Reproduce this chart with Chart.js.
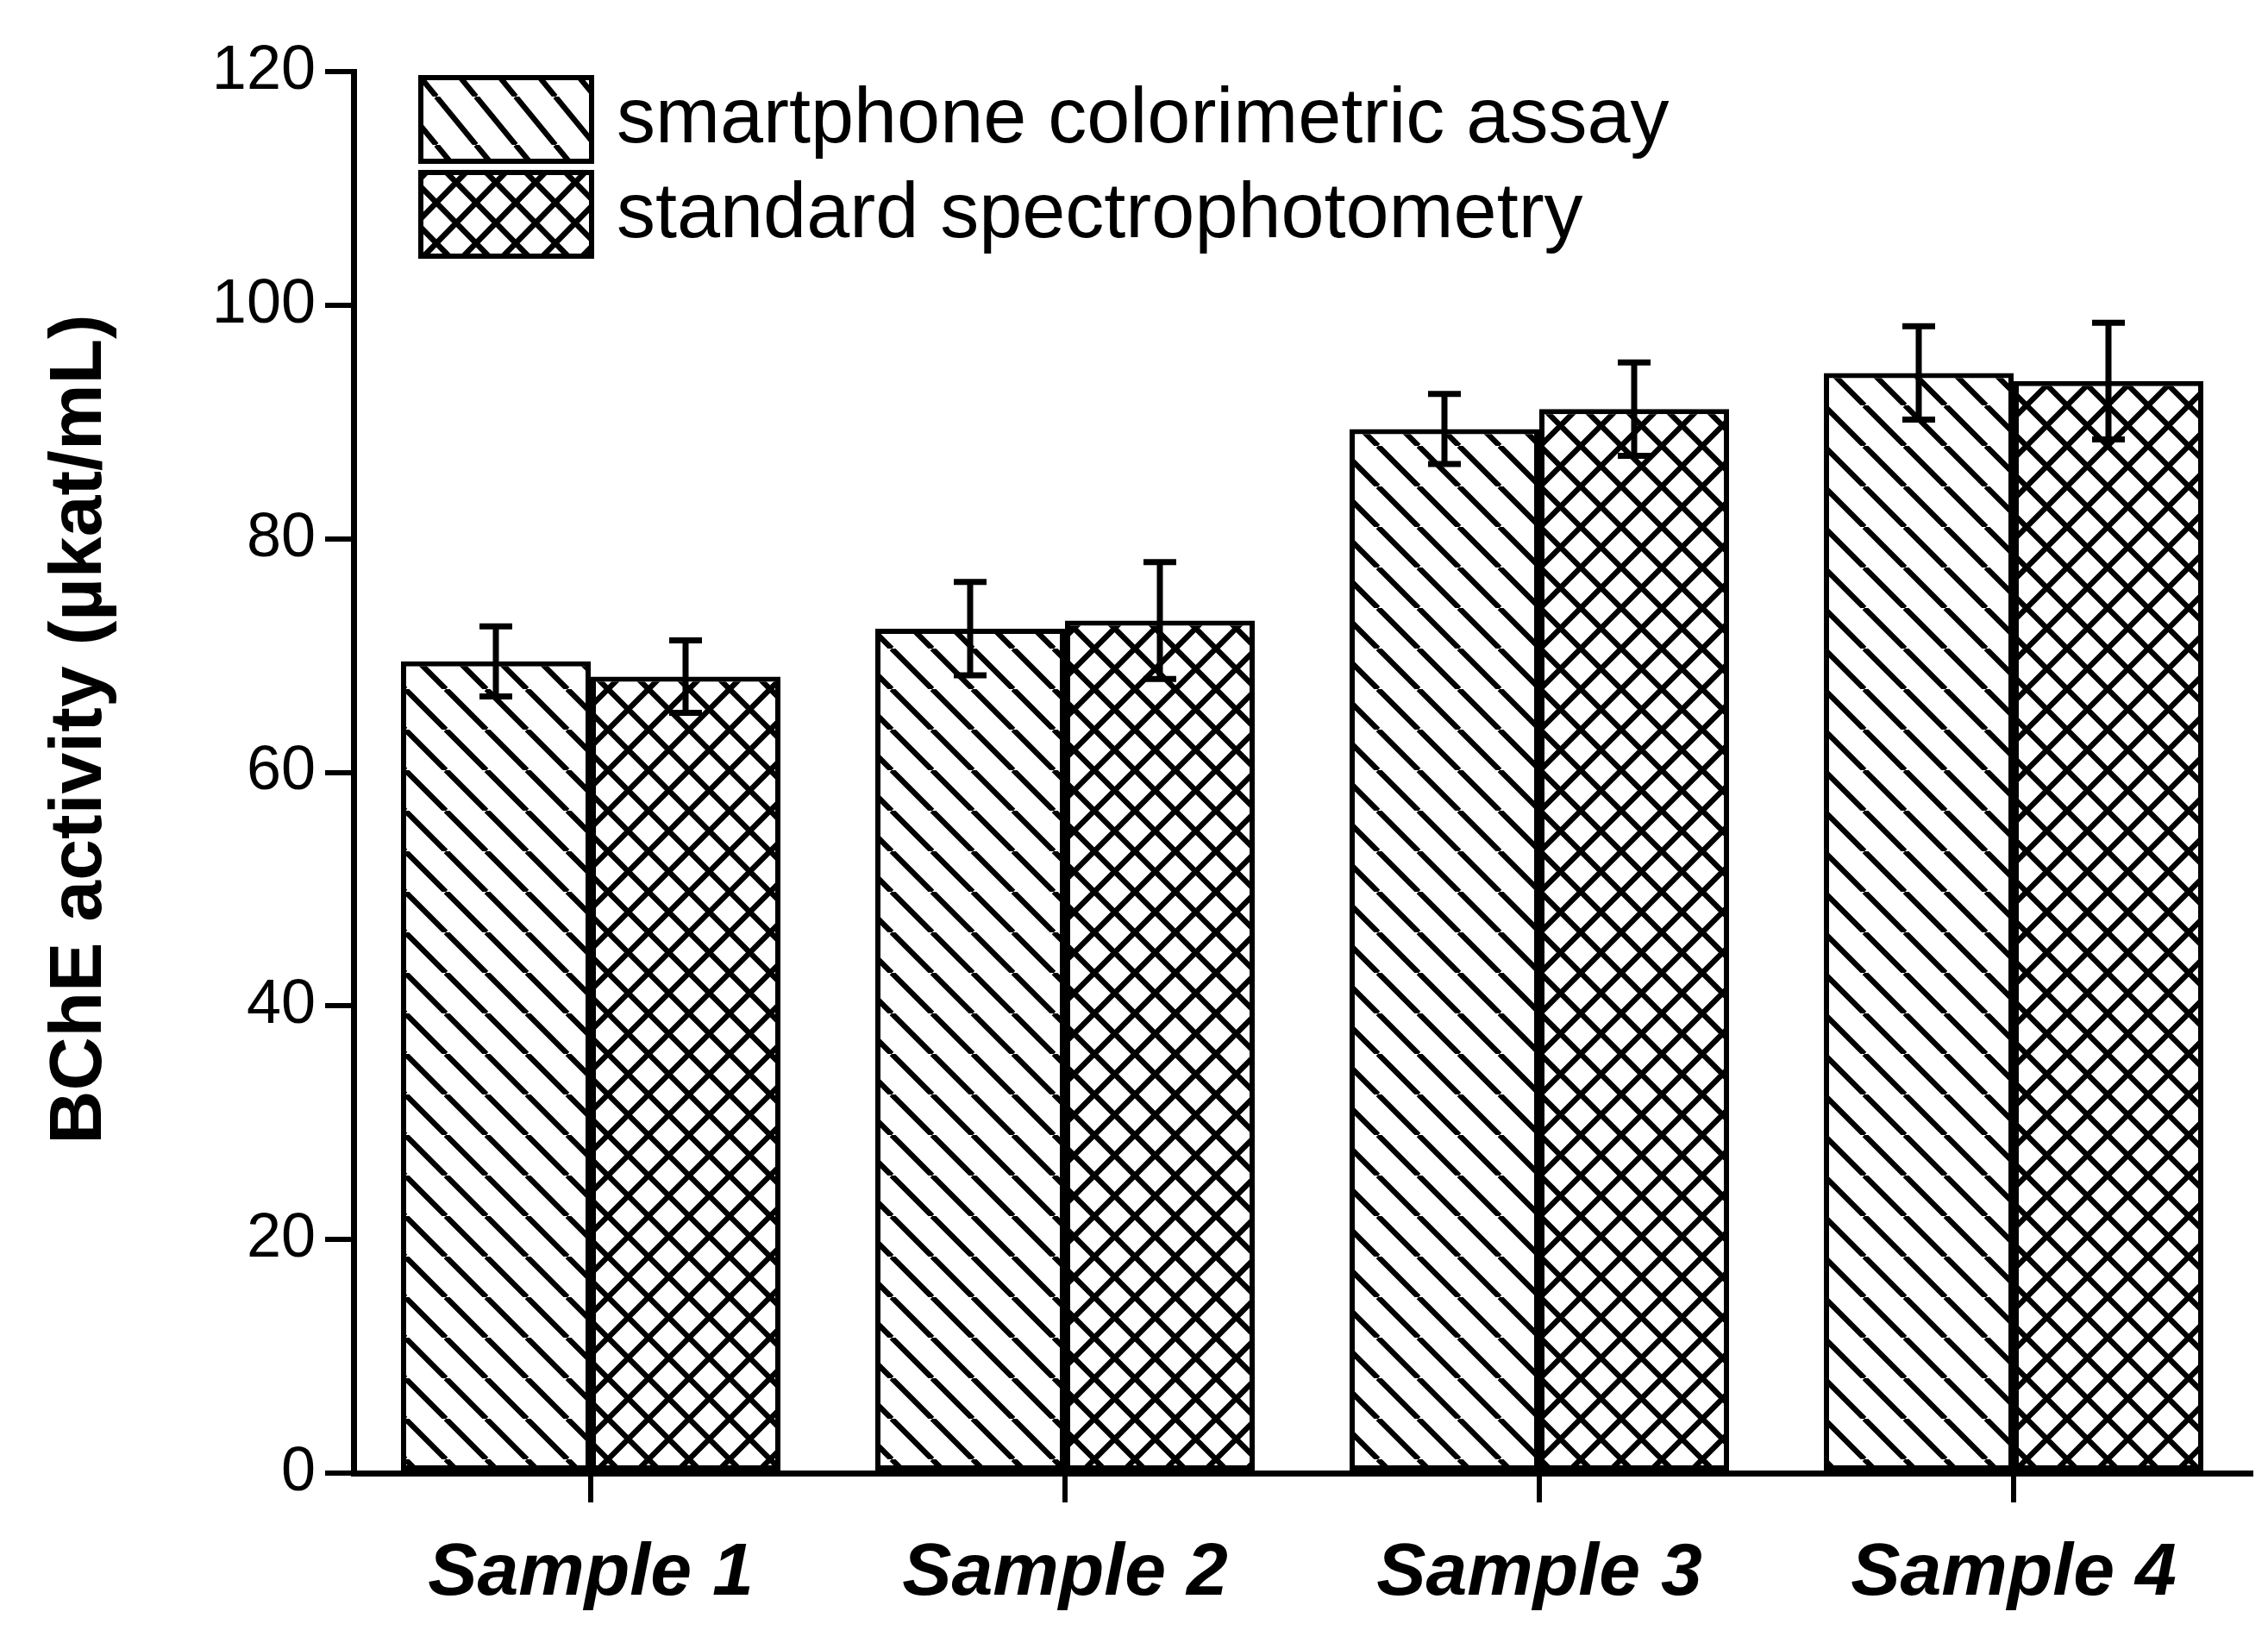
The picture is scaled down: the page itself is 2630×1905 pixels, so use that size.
<!DOCTYPE html>
<html>
<head>
<meta charset="utf-8">
<title>BChE activity</title>
<script src="https://cdn.jsdelivr.net/npm/chart.js@4.4.0/dist/chart.umd.min.js"></script>
<style>
  html, body { margin: 0; padding: 0; background: #fff; }
  canvas { display: block; }
</style>
</head>
<body>
<canvas id="myChart" width="2630" height="1905"></canvas>
<script>
'use strict';

// data
const categories = ['Sample 1', 'Sample 2', 'Sample 3', 'Sample 4'];
const seriesNames = ['smartphone colorimetric assay', 'standard spectrophotometry'];
const smartphoneValues = [69.5, 72.3, 89.4, 94.2];
const smartphoneErrors = [3.0, 4.0, 3.0, 4.0];
const standardValues = [68.2, 73.0, 91.1, 93.5];
const standardErrors = [3.1, 5.0, 4.0, 5.0];
const yTicks = [0, 20, 40, 60, 80, 100, 120];
const yTitle = 'BChE activity (µkat/mL)';

const canvas = document.getElementById('myChart');
const mainCtx = canvas.getContext('2d');

// hatch patterns: "\" lines, optionally crossed with "/"
function makeHatch(w, h, cross) {
    const tile = document.createElement('canvas');
    tile.width = w;
    tile.height = h;
    const g = tile.getContext('2d');
    g.fillStyle = '#fff';
    g.fillRect(0, 0, w, h);
    g.strokeStyle = '#000';
    g.lineWidth = 6.5;
    g.beginPath();
    for (let k = -1; k <= 1; k++) {
        g.moveTo(k * w, 0);
        g.lineTo(k * w + w, h);
        if (cross) {
            g.moveTo(k * w + w, 0);
            g.lineTo(k * w, h);
        }
    }
    g.stroke();
    return mainCtx.createPattern(tile, 'repeat');
}

const diagPattern = makeHatch(47, 47, false);
const crossPattern = makeHatch(47, 47, true);
const legendDiag = makeHatch(46, 56, false);
const legendCross = makeHatch(46, 47, true);

const errorBars = {
    id: 'errorBars',
    afterDatasetsDraw(chart) {
        const ctx = chart.ctx;
        const y = chart.scales.y;
        ctx.save();
        ctx.strokeStyle = '#000';
        ctx.lineWidth = 7;
        chart.data.datasets.forEach((ds, i) => {
            chart.getDatasetMeta(i).data.forEach((bar, j) => {
                const top = y.getPixelForValue(ds.data[j] + ds.errors[j]);
                const bot = y.getPixelForValue(ds.data[j] - ds.errors[j]);
                const cx = bar.x;
                ctx.beginPath();
                ctx.moveTo(cx, top);
                ctx.lineTo(cx, bot);
                ctx.moveTo(cx - 19, top);
                ctx.lineTo(cx + 19, top);
                ctx.moveTo(cx - 19, bot);
                ctx.lineTo(cx + 19, bot);
                ctx.stroke();
            });
        });
        ctx.restore();
    }
};

// legend boxes inside the plot, top left, and the y title a bit above centre
const boxLegend = {
    id: 'boxLegend',
    afterDraw(chart) {
        const ctx = chart.ctx;
        const area = chart.chartArea;
        const fills = [legendDiag, legendCross];
        const x0 = area.left + 78, y0 = area.top + 7;
        ctx.save();
        ctx.font = '90px "Liberation Sans", Arial, sans-serif';
        ctx.textBaseline = 'middle';
        ctx.textAlign = 'left';
        chart.data.datasets.forEach((ds, i) => {
            const top = y0 + i * 110;
            ctx.fillStyle = fills[i];
            ctx.fillRect(x0, top, 198, 97);
            ctx.lineWidth = 6;
            ctx.strokeStyle = '#000';
            ctx.strokeRect(x0, top, 198, 97);
            ctx.fillStyle = '#000';
            ctx.fillText(ds.label, x0 + 227, top + 50);
        });

        ctx.translate(93, (area.top + area.bottom) / 2 - 50);
        ctx.rotate(-Math.PI / 2);
        ctx.font = 'bold 86px "Liberation Sans", Arial, sans-serif';
        ctx.textAlign = 'center';
        ctx.fillText(yTitle, 0, 0);
        ctx.restore();
    }
};

const data = {
    labels: categories,
    datasets: [{
        label: seriesNames[0],
        data: smartphoneValues,
        errors: smartphoneErrors,
        backgroundColor: diagPattern,
        borderColor: '#000',
        borderWidth: 6,
        borderSkipped: false
    }, {
        label: seriesNames[1],
        data: standardValues,
        errors: standardErrors,
        backgroundColor: crossPattern,
        borderColor: '#000',
        borderWidth: 6,
        borderSkipped: false
    }]
};

const options = {
    responsive: false,
    animation: false,
    layout: { padding: { top: 83, right: 20, left: 0, bottom: 0 } },
    datasets: { bar: { categoryPercentage: 0.8, barPercentage: 1.0 } },
    plugins: {
        legend: { display: false },
        tooltip: { enabled: false }
    },
    scales: {
        x: {
            grid: { offset: false, drawOnChartArea: false, tickLength: 34, lineWidth: 6, color: '#000' },
            border: { display: true, width: 7, color: '#000' },
            ticks: {
                color: '#000',
                padding: 32,
                font: { family: '"Liberation Sans", Arial, sans-serif', size: 86, weight: 'bold', style: 'italic' }
            },
            afterFit(scale) { scale.height = 197; }
        },
        y: {
            min: 0,
            max: 120,
            afterBuildTicks(scale) { scale.ticks = yTicks.map(v => ({ value: v })); },
            grid: { drawOnChartArea: false, tickLength: 33, lineWidth: 6, color: '#000' },
            border: { display: true, width: 7, color: '#000' },
            ticks: {
                color: '#000',
                padding: 11,
                font: { family: '"Liberation Sans", Arial, sans-serif', size: 72 }
            },
            afterFit(scale) { scale.width = 410; }
        }
    }
};

const myChart = new Chart(canvas, {
    type: 'bar',
    data: data,
    options: options,
    plugins: [errorBars, boxLegend]
});
</script>
</body>
</html>
